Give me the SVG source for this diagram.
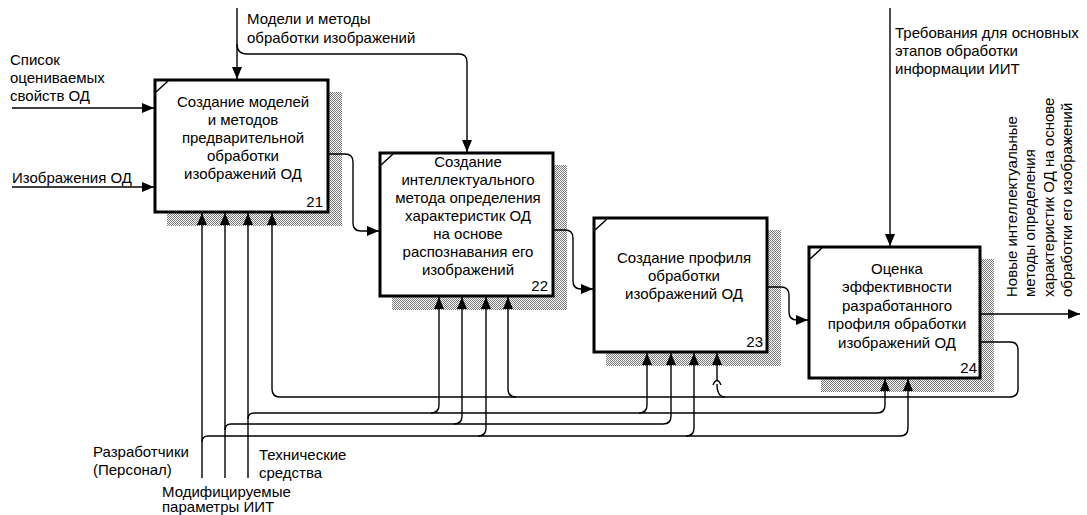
<svg xmlns="http://www.w3.org/2000/svg" width="1087" height="515" viewBox="0 0 1087 515">
<style>
text{font-family:"Liberation Sans",Arial,sans-serif;font-size:15px;fill:#000}
.c{text-anchor:middle}
.r{text-anchor:end}
.box{fill:#fff;stroke:#000;stroke-width:3}
.sh{fill:url(#hatch)}
.tick{stroke:#000;stroke-width:1.5;fill:none}
.ln{fill:none;stroke:#000;stroke-width:1.4}
.ar{marker-end:url(#ah)}
</style>
<defs>
<pattern id="hatch" width="2" height="2" patternUnits="userSpaceOnUse">
<rect width="2" height="2" fill="#fff"/>
<rect width="1" height="1" fill="#7a7a7a"/>
<rect x="1" y="1" width="1" height="1" fill="#7a7a7a"/>
</pattern>
<marker id="ah" markerUnits="userSpaceOnUse" markerWidth="12" markerHeight="10" refX="12" refY="5" orient="auto">
<path d="M0,0 L12,5 L0,10 z" fill="#000"/>
</marker>
</defs>
<rect width="1087" height="515" fill="#fff"/>

<g id="node21">
<rect class="sh" x="167" y="92" width="175" height="134"/>
<rect class="box" x="155" y="80" width="173" height="132"/>
<path class="tick" d="M156,92 L168,81"/>
<text class="c" x="243" y="107">Создание моделей</text>
<text class="c" x="243" y="125">и методов</text>
<text class="c" x="243" y="143">предварительной</text>
<text class="c" x="243" y="161">обработки</text>
<text class="c" x="243" y="179">изображений ОД</text>
<text class="r" x="323" y="207">21</text>
</g>

<g id="node22">
<rect class="sh" x="392" y="165" width="175" height="145"/>
<rect class="box" x="380" y="153" width="173" height="143"/>
<path class="tick" d="M381,165 L393,154"/>
<text class="c" x="468" y="167">Создание</text>
<text class="c" x="468" y="185">интеллектуального</text>
<text class="c" x="468" y="203">метода определения</text>
<text class="c" x="468" y="221">характеристик ОД</text>
<text class="c" x="468" y="239">на основе</text>
<text class="c" x="468" y="257">распознавания его</text>
<text class="c" x="468" y="275">изображений</text>
<text class="r" x="548" y="291">22</text>
</g>

<g id="node23">
<rect class="sh" x="606" y="230" width="175" height="136"/>
<rect class="box" x="594" y="218" width="173" height="134"/>
<path class="tick" d="M595,230 L607,219"/>
<text class="c" x="684" y="263">Создание профиля</text>
<text class="c" x="684" y="281">обработки</text>
<text class="c" x="684" y="299">изображений ОД</text>
<text class="r" x="763" y="347">23</text>
</g>

<g id="node24">
<rect class="sh" x="821" y="259" width="173" height="133"/>
<rect class="box" x="809" y="247" width="171" height="131"/>
<path class="tick" d="M810,259 L822,248"/>
<text class="c" x="897" y="274">Оценка</text>
<text class="c" x="897" y="292">эффективности</text>
<text class="c" x="897" y="311">разработанного</text>
<text class="c" x="897" y="329">профиля обработки</text>
<text class="c" x="897" y="348">изображений ОД</text>
<text class="r" x="977" y="373">24</text>
</g>

<g id="connectors">
<path class="ln ar" d="M237,8 V79"/>
<path class="ln ar" d="M237,44 Q237,54 247,54 H459 Q467,54 467,62 V152"/>
<path class="ln ar" d="M890,8 V246"/>
<path class="ln ar" d="M12,108 H154"/>
<path class="ln ar" d="M12,187 H154"/>
<path class="ln ar" d="M328,154 H345 Q353,154 353,162 V223 Q353,231 361,231 H379"/>
<path class="ln ar" d="M553,230 H565 Q573,230 573,238 V281 Q573,289 581,289 H593"/>
<path class="ln ar" d="M767,287 H781 Q789,287 789,295 V312 Q789,320 797,320 H808"/>
<path class="ln ar" d="M980,314 H1080"/>
<path class="ln ar" d="M980,342 H1010 Q1018,342 1018,350 V389 Q1018,397 1010,397 H280 Q272,397 272,389 V213"/>
<path class="ln ar" d="M516,397 Q508,397 508,389 V297"/>
<path class="ln ar" d="M717,381 V353"/>
<path class="ln" d="M713,385 Q717,376 721,385"/>
<path class="ln" d="M717,384 Q717,397 725,397"/>
<path class="ln ar" d="M202,478 V213"/>
<path class="ln ar" d="M225,478 V213"/>
<path class="ln ar" d="M248,478 V213"/>
<path class="ln ar" d="M248,419 Q248,413 254,413 H877 Q885,413 885,405 V379"/>
<path class="ln ar" d="M225,430 Q225,424 231,424 H663 Q671,424 671,416 V353"/>
<path class="ln ar" d="M202,442 Q202,436 208,436 H900 Q908,436 908,428 V379"/>
<path class="ln ar" d="M431,413 Q439,413 439,405 V297"/>
<path class="ln ar" d="M454,424 Q462,424 462,416 V297"/>
<path class="ln ar" d="M478,436 Q486,436 486,428 V297"/>
<path class="ln ar" d="M639,413 Q647,413 647,405 V353"/>
<path class="ln ar" d="M686,436 Q694,436 694,428 V353"/>
</g>

<g id="labels">
<text x="247" y="24">Модели и методы</text>
<text x="247" y="43">обработки изображений</text>
<text x="895" y="38">Требования для основных</text>
<text x="895" y="56">этапов обработки</text>
<text x="895" y="74">информации ИИТ</text>
<text x="10" y="65">Список</text>
<text x="10" y="83">оцениваемых</text>
<text x="10" y="101">свойств ОД</text>
<text x="12" y="183">Изображения ОД</text>
<text transform="translate(1017,297) rotate(-90)">Новые интеллектуальные</text>
<text transform="translate(1035,297) rotate(-90)">методы определения</text>
<text transform="translate(1054,297) rotate(-90)">характеристик ОД на основе</text>
<text transform="translate(1072,297) rotate(-90)">обработки его изображений</text>
<text x="93" y="457">Разработчики</text>
<text x="93" y="475">(Персонал)</text>
<text x="259" y="460">Технические</text>
<text x="259" y="478">средства</text>
<text x="162" y="497">Модифицируемые</text>
<text x="162" y="512">параметры ИИТ</text>
</g>
</svg>
